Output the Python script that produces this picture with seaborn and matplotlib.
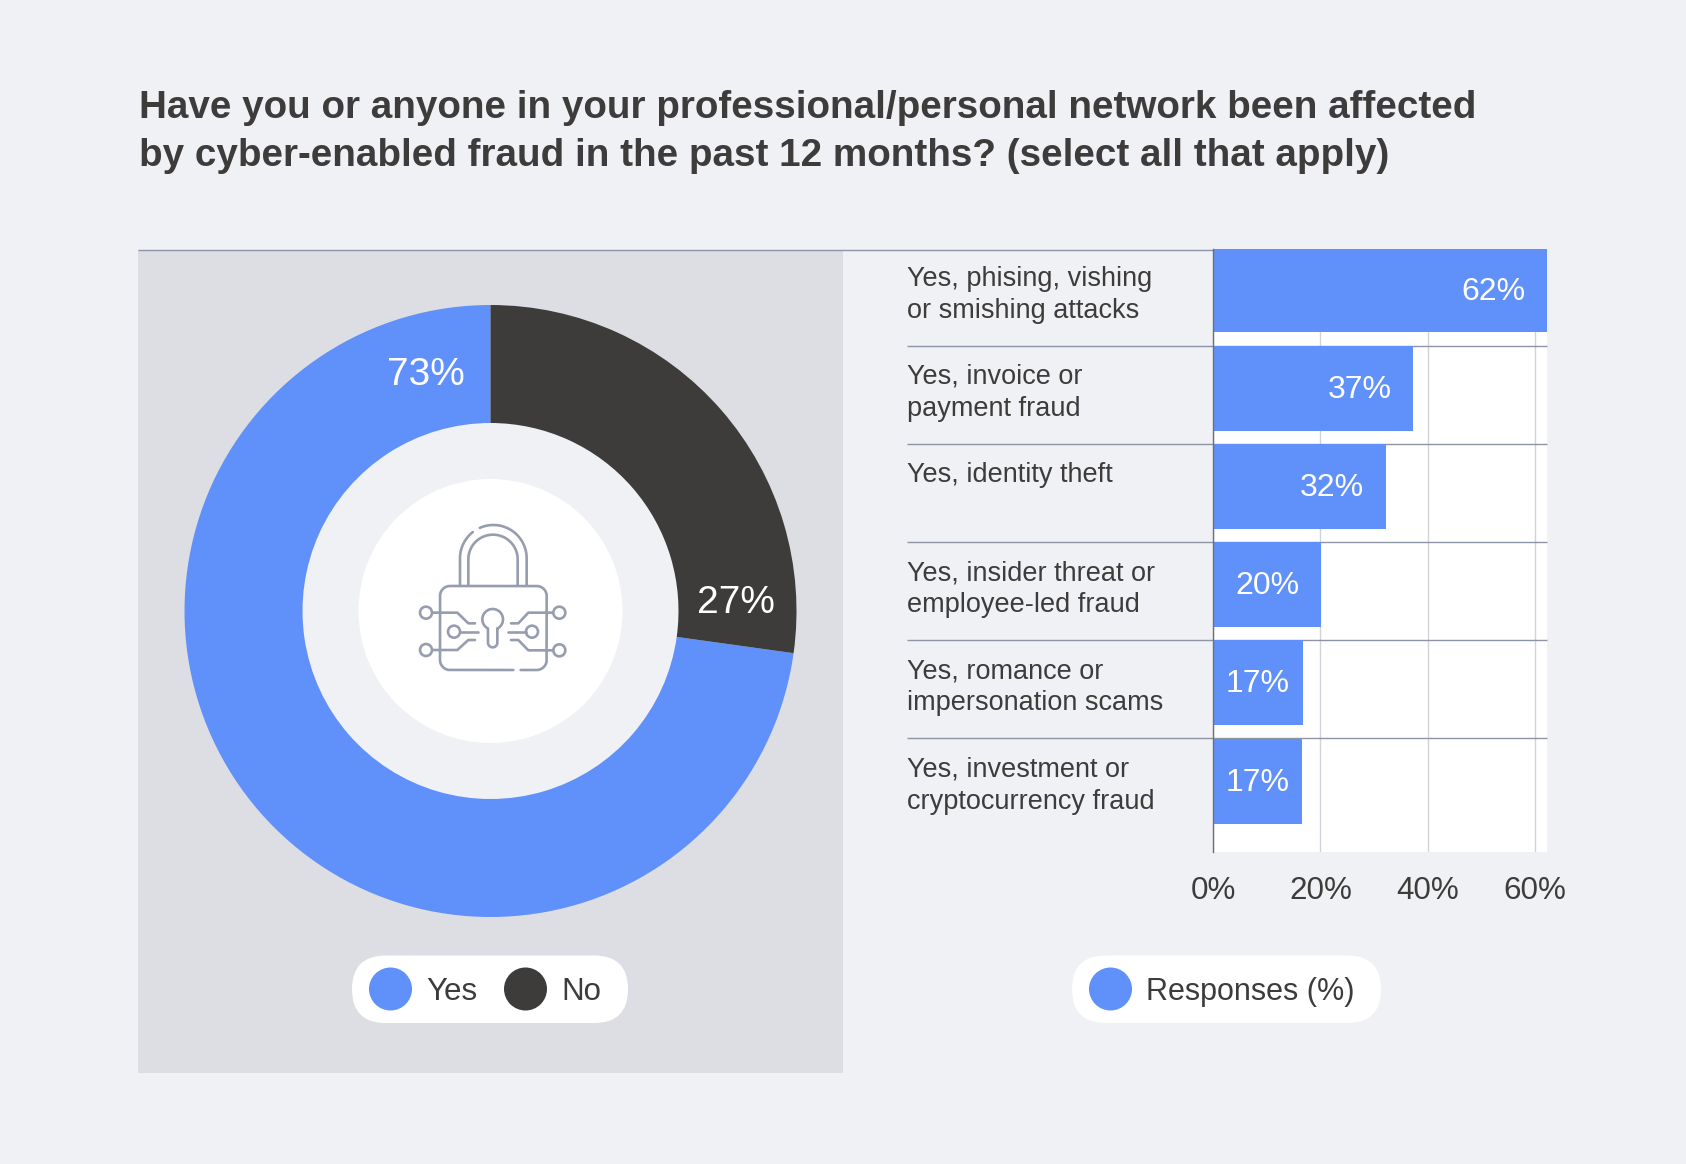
import numpy as np
import pandas as pd
import matplotlib
matplotlib.use("Agg")
import matplotlib.pyplot as plt
from matplotlib.patches import Circle, Rectangle, FancyBboxPatch
from matplotlib.transforms import blended_transform_factory, ScaledTranslation
from matplotlib.ticker import FuncFormatter
import seaborn as sns

title_lines = ["Have you or anyone in your professional/personal network been affected",
               "by cyber-enabled fraud in the past 12 months? (select all that apply)"]
donut_labels = ["Yes", "No"]
donut_values = [72.8, 27.2]
donut_texts = ["73%", "27%"]
categories = ["Yes, phising, vishing\nor smishing attacks",
              "Yes, invoice or\npayment fraud",
              "Yes, identity theft\n ",
              "Yes, insider threat or\nemployee-led fraud",
              "Yes, romance or\nimpersonation scams",
              "Yes, investment or\ncryptocurrency fraud"]
responses = [62.3, 37.3, 32.2, 20.1, 16.7, 16.5]
response_texts = ["62%", "37%", "32%", "20%", "17%", "17%"]
xticks = [0, 20, 40, 60]
series_name = "Responses (%)"

BG = "#eff1f5"; PANEL = "#dddee3"; BLUE = "#6090f9"; DARK = "#3d3c3b"
LINE = "#8e94a5"; GRID = "#d0d3d9"; ICON = "#969dae"

sns.set_theme(style="white")
plt.rcParams["font.family"] = ["Liberation Sans", "DejaVu Sans"]

W, H = 1686, 1164
fig = plt.figure(figsize=(W / 100, H / 100), dpi=100, facecolor=BG)

def px_axes(x0, y0, x1, y1, **kw):
    return fig.add_axes([x0 / W, 1 - y1 / H, (x1 - x0) / W, (y1 - y0) / H], **kw)

# background layer in pixel coordinates
bg = px_axes(0, 0, W, H, zorder=0)
bg.set_xlim(0, W); bg.set_ylim(H, 0); bg.axis("off")
bg.add_patch(Rectangle((137.5, 250), 705.5, 823, fc=PANEL, ec="none"))
bg.plot([137.5, 1449], [249.5, 249.5], color=LINE, lw=1.0, solid_capstyle="butt")

CX, CY = 490.5, 611
bg.add_patch(Circle((CX, CY), 190, fc=BG, ec="none"))
bg.add_patch(Circle((CX, CY), 132, fc="white", ec="none"))

def pill(x0, x1):
    y0, y1 = 955.5, 1023
    r = (y1 - y0) / 2
    bg.add_patch(FancyBboxPatch((x0 + r, y0 + r), x1 - x0 - 2 * r, 0,
                                boxstyle=f"round,pad={r},rounding_size={r}",
                                fc="white", ec="none"))
pill(352, 628)
pill(1072, 1381)
LEG = 21.5
for cx, col in [(390.5, BLUE), (525.5, DARK), (1110.5, BLUE)]:
    bg.add_patch(Circle((cx, 989), LEG, fc=col, ec="none"))
for x, s, fs in [(426, donut_labels[0], 22.5), (561, donut_labels[1], 22.5), (1146.5, series_name, 22)]:
    bg.text(x, 992, s, fontsize=fs, color=DARK, va="center", ha="left")

# title
for i, s in enumerate(title_lines):
    bg.text(139, 107.5 + i * 48.5, s, fontsize=27.8, fontweight="bold", color=DARK, va="center", ha="left")

# icon
def Z(pts):
    a = np.asarray(pts, float)
    return 350 + a[:, 0] / 3, 470 + a[:, 1] / 3
def arc(cx, cy, r, a0, a1, n=40):
    t = np.radians(np.linspace(a0, a1, n))
    return np.column_stack([cx + r * np.cos(t), cy - r * np.sin(t)])
def stroke(*parts):
    pts = np.vstack([np.atleast_2d(p) for p in parts])
    x, y = Z(pts)
    bg.plot(x, y, color=ICON, lw=1.9, solid_capstyle="round", solid_joinstyle="round", zorder=3)

stroke([[330, 345]], arc(430, 265, 100, 180, 128))
stroke(arc(430, 265, 100, 114, 0), [[530, 345]])
stroke([[355, 345]], arc(429, 268, 74, 180, 0), [[503, 345]])
stroke([[490, 600]], arc(300, 570, 30, 270, 180), arc(300, 378, 30, 180, 90),
       arc(560, 378, 30, 90, 0), arc(560, 570, 30, 0, -90), [[512, 600]])
stroke(arc(428, 448, 31, -63, 243), arc(428, 518, 14, 180, 360), [[442, 476]])
for cxz, cyz in [(228, 428), (228, 540), (312, 485), (628, 428), (628, 541), (546, 485)]:
    x, y = Z([[cxz, cyz]])
    bg.add_patch(Circle((x[0], y[0]), 18 / 3, fc="white", ec=ICON, lw=1.9, zorder=3))
stroke([[248, 428], [322, 428], [355, 460], [375, 460]])
stroke([[248, 540], [322, 540], [355, 510], [375, 510]])
stroke([[330, 485], [385, 485]])
stroke([[608, 428], [535, 428], [505, 460], [483, 460]])
stroke([[608, 541], [535, 541], [505, 510], [483, 510]])
stroke([[528, 485], [473, 485]])

# donut
pie_ax = px_axes(CX - 306, CY - 306, CX + 306, CY + 306, zorder=1)
pie_ax.patch.set_alpha(0)
pie_ax.pie(donut_values, colors=[BLUE, DARK], startangle=90, radius=1,
           wedgeprops=dict(width=1 - 188 / 306, linewidth=0))
pie_ax.set_xlim(-1, 1); pie_ax.set_ylim(-1, 1)
for s, (x, y) in zip(donut_texts, [(426, 375), (735.5, 603)]):
    pie_ax.text(x, y, s, transform=bg.transData, fontsize=28, color="white",
                ha="center", va="center", clip_on=False)

# bars
ax = px_axes(1213, 249, 1547, 852, zorder=2)
ax.set_facecolor("white")
df = pd.DataFrame({"category": categories, "value": responses})
sns.barplot(data=df, y="category", x="value", color=BLUE, saturation=1, width=85 / 98.2, ax=ax, orient="h", linewidth=0)
ax.set_xlim(0, 334 / 5.367)
ax.set_ylim(5.723, -0.4175)
ax.set_xlabel(""); ax.set_ylabel("")
ax.set_xticks(xticks)
ax.xaxis.set_major_formatter(FuncFormatter(lambda v, p: f"{v:.0f}%"))
ax.set_axisbelow(True)
ax.grid(axis="x", color=GRID, lw=1)
ax.grid(axis="y", visible=False)
ax.tick_params(axis="x", length=0, pad=17, labelsize=22.6, labelcolor=DARK)
ax.tick_params(axis="y", length=0, pad=306 * 0.72, labelsize=19.5, labelcolor=DARK)
up = ScaledTranslation(0, 1.0 / 72, fig.dpi_scale_trans)
for t in ax.get_yticklabels():
    t.set_ha("left"); t.set_linespacing(1.3)
    t.set_transform(t.get_transform() + up)
for s in ["top", "right", "bottom"]:
    ax.spines[s].set_visible(False)
ax.spines["left"].set_color("#6e6f73"); ax.spines["left"].set_linewidth(1.0)
tr = blended_transform_factory(bg.transData, ax.transData)
ax.hlines([k - 0.4328 for k in range(1, len(categories))], 907, 1547, transform=tr,
          colors=LINE, lw=1.0, clip_on=False, zorder=0.6)
for i, (v, s) in enumerate(zip(responses, response_texts)):
    if v < 18:
        ax.annotate(s, (v / 2, i), xytext=(0, -1.2), textcoords="offset points", ha="center", va="center",
                    fontsize=23, color="white")
    else:
        ax.annotate(s, (v, i), xytext=(-15.5, -1.2), textcoords="offset points", ha="right", va="center",
                    fontsize=23, color="white")

fig.savefig("out.png", dpi=100, facecolor=BG)
